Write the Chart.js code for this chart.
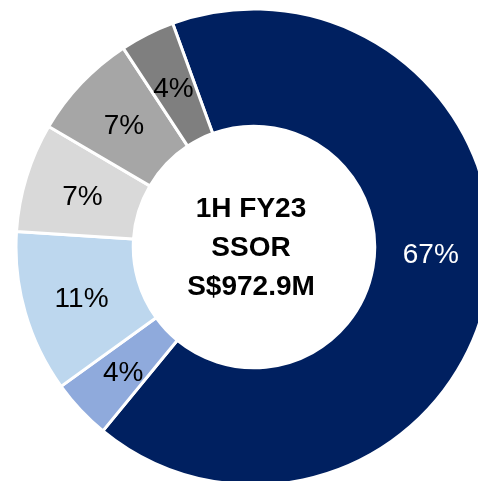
<!DOCTYPE html>
<html>
<head>
<meta charset="utf-8">
<script src="https://cdn.jsdelivr.net/npm/chart.js@4"></script>
<style>
  html, body { margin: 0; padding: 0; background: #ffffff; overflow: hidden; width: 478px; height: 481px; }
  #wrap { position: absolute; left: 16px; top: 9px; width: 476px; height: 476px; }
</style>
</head>
<body>
<div id="wrap"><canvas id="c"></canvas></div>
<script>
const categories = ['Segment 1', 'Segment 2', 'Segment 3', 'Segment 4', 'Segment 5', 'Segment 6'];
const shareValues = [66.5, 4.1, 11.0, 7.4, 7.3, 3.7];
const shareLabels = ['67%', '4%', '11%', '7%', '7%', '4%'];
const centerLines = ['1H FY23', 'SSOR', 'S$972.9M'];

const sliceColors = ['#002060', '#8FAADC', '#BDD7EE', '#D9D9D9', '#A6A6A6', '#7F7F7F'];
const labelColors = ['#ffffff', '#000000', '#000000', '#000000', '#000000', '#000000'];
const labelNudgeY = [-25, 0, 0, 0, 0, 0];

const sliceLabelPlugin = {
  id: 'sliceLabels',
  afterDatasetsDraw(chart) {
    const ctx = chart.ctx;
    const meta = chart.getDatasetMeta(0);
    ctx.save();
    ctx.font = '28px "Liberation Sans", Arial, sans-serif';
    ctx.textAlign = 'center';
    ctx.textBaseline = 'middle';
    meta.data.forEach((arc, i) => {
      const p = arc.getProps(['x', 'y', 'startAngle', 'endAngle', 'innerRadius', 'outerRadius'], true);
      const mid = (p.startAngle + p.endAngle) / 2;
      const r = (p.innerRadius + p.outerRadius) / 2;
      ctx.fillStyle = labelColors[i];
      ctx.fillText(shareLabels[i], p.x + Math.cos(mid) * r, p.y + Math.sin(mid) * r + labelNudgeY[i] + 3);
    });
    // center text
    const a = meta.data[0];
    ctx.font = 'bold 28px "Liberation Sans", Arial, sans-serif';
    ctx.fillStyle = '#000000';
    const lh = 39;
    centerLines.forEach((t, k) => {
      ctx.fillText(t, a.x - 3, a.y + (k - 1) * lh + 1);
    });
    ctx.restore();
  }
};

new Chart(document.getElementById('c'), {
  type: 'doughnut',
  data: {
    labels: categories,
    datasets: [{
      data: shareValues,
      backgroundColor: sliceColors,
      borderColor: '#ffffff',
      borderWidth: 3,
      hoverOffset: 0
    }]
  },
  options: {
    responsive: true,
    maintainAspectRatio: false,
    animation: false,
    rotation: -20,
    radius: 238,
    cutout: 120,
    layout: { padding: 0 },
    plugins: {
      legend: { display: false },
      tooltip: { enabled: false }
    }
  },
  plugins: [sliceLabelPlugin]
});
</script>
</body>
</html>
